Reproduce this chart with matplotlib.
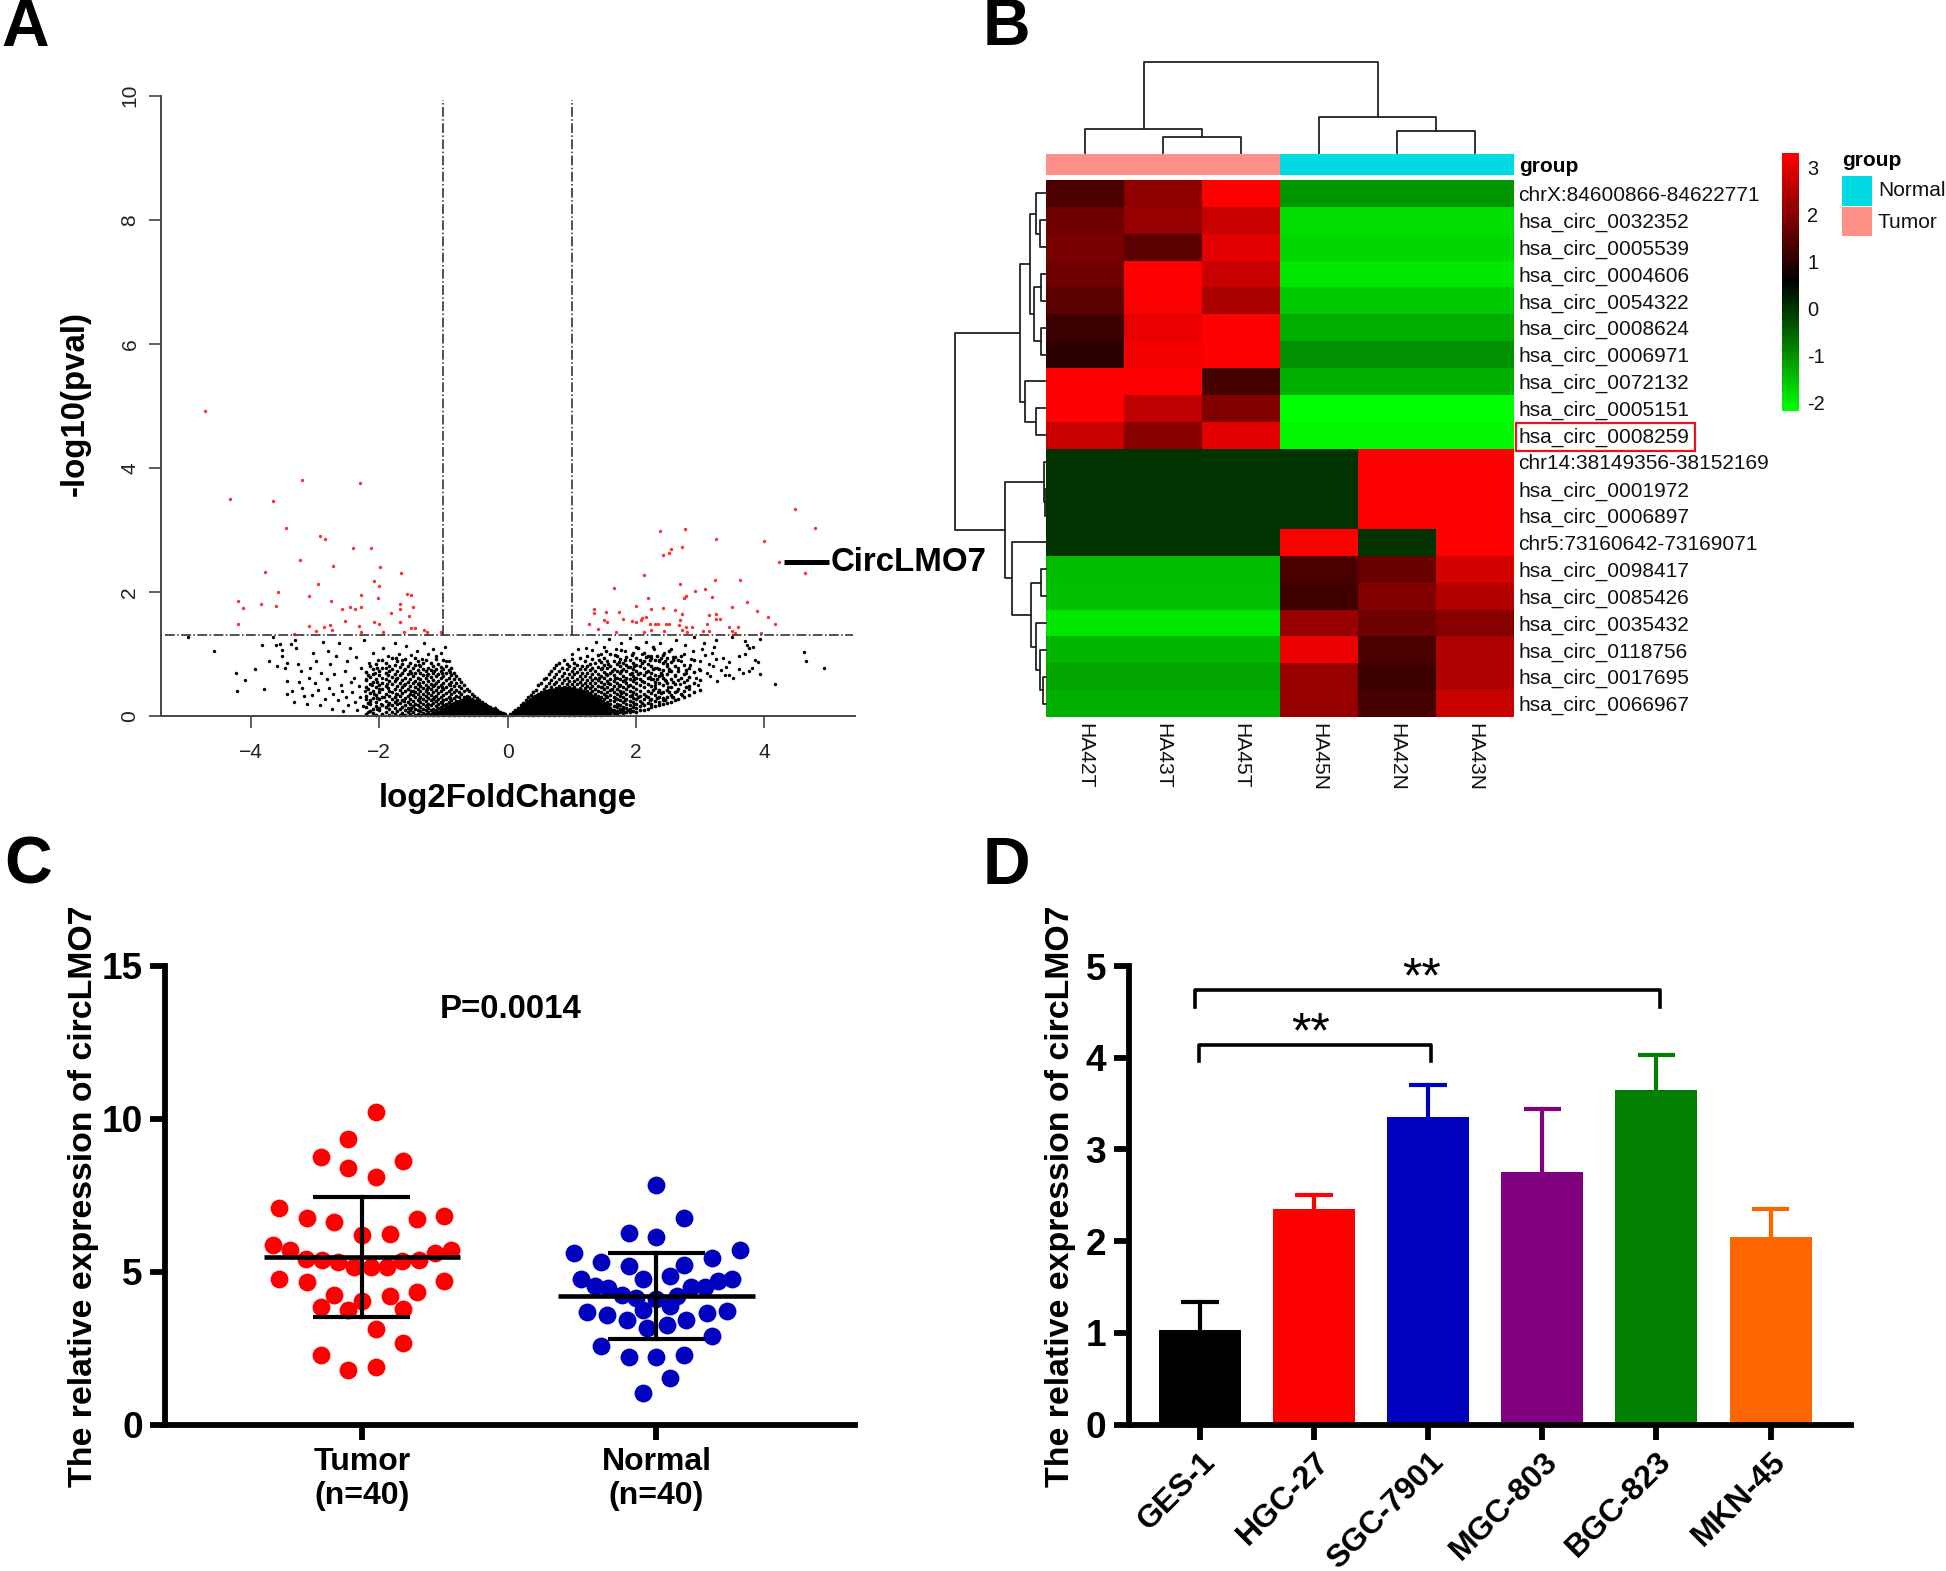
import matplotlib
matplotlib.use("Agg")
import matplotlib.pyplot as plt
from matplotlib.colors import LinearSegmentedColormap, ListedColormap
from matplotlib.patches import Rectangle

plt.rcParams['font.family'] = ['Liberation Sans', 'DejaVu Sans']

W, H = 1946, 1571

# ---- panel A
red_x = [-4.72,-4.32,-3.66,-3.21,-2.30,-3.45,-2.93,-2.85,-2.41,-2.13,-3.24,-2.72,-1.99,-1.66,-3.78,-2.96,-2.09,-2.00,
         -3.57,-3.09,-2.28,-2.02,-1.57,-1.51,-4.20,-2.75,-3.85,-3.61,-4.12,-1.67,-1.48,-2.58,-2.46,-2.38,-2.29,-1.67,
         -1.82,-1.53,-2.54,-2.09,-2.00,-1.67,-4.20,-3.10,-2.86,-2.76,-2.32,-1.51,-1.44,-2.74,-2.99,-1.30,-1.25,-3.33,
         -2.29,-1.94,-1.61,-1.04,
         4.47,4.79,2.37,2.76,3.25,3.99,2.71,2.54,2.52,2.42,4.23,4.63,2.12,3.23,3.62,2.68,3.07,2.92,1.65,2.18,2.77,2.75,
         3.18,3.73,2.00,3.50,1.34,2.23,2.60,2.42,3.88,1.53,1.73,1.34,2.72,3.13,3.25,4.06,2.10,2.15,1.50,1.79,1.93,2.00,
         2.07,2.68,3.24,3.30,1.27,1.55,2.22,2.29,2.34,2.47,2.51,2.67,3.11,4.17,2.77,2.87,3.58,3.45,1.41,2.24,2.44,2.71,
         2.80,3.04,3.49,3.54,1.68,3.94,3.13,2.12]
red_y = [4.92,3.50,3.47,3.81,3.75,3.03,2.90,2.85,2.71,2.71,2.51,2.42,2.40,2.30,2.32,2.12,2.18,2.09,
         2.00,1.94,1.95,1.91,1.96,1.95,1.85,1.86,1.80,1.77,1.74,1.80,1.76,1.73,1.75,1.72,1.75,1.72,
         1.66,1.61,1.53,1.51,1.49,1.51,1.48,1.45,1.44,1.46,1.45,1.42,1.42,1.38,1.37,1.39,1.36,1.32,
         1.36,1.36,1.36,1.36,
         3.33,3.03,2.99,3.02,2.86,2.82,2.72,2.70,2.62,2.60,2.49,2.31,2.28,2.20,2.20,2.13,2.04,2.01,2.06,1.91,1.94,1.91,
         1.92,1.84,1.77,1.76,1.72,1.73,1.71,1.74,1.70,1.68,1.67,1.66,1.64,1.63,1.64,1.60,1.58,1.59,1.54,1.56,1.53,1.51,
         1.54,1.55,1.56,1.56,1.48,1.51,1.49,1.49,1.48,1.48,1.48,1.47,1.48,1.48,1.44,1.44,1.44,1.44,1.40,1.38,1.37,1.38,
         1.36,1.37,1.37,1.34,1.36,1.34,1.37,1.36]

black_left = [(-4.98,1.28),(-4.57,1.04),(-4.23,.70),(-4.22,.40),(-4.09,.58),(-3.93,.76),(-3.80,.43),(-3.82,1.15),(-3.71,.88),
 (-3.66,1.27),(-3.61,1.15),(-3.60,.80),(-3.54,1.16),(-3.52,1.07),(-3.51,.97),(-3.47,.78),(-3.43,.86),(-3.44,.56),(-3.44,.35),
 (-3.36,.40),(-3.33,.22),(-3.38,1.16),(-3.32,1.22),(-3.30,1.09),(-3.27,.84),(-3.25,.55),(-3.22,.72),(-3.20,.45),(-3.18,.32),
 (-3.12,.19),(-3.10,.62),(-3.08,.78),(-3.05,.34),(-3.03,1.02),(-3.00,.53),(-2.98,.88),(-2.95,.42),(-2.93,.18),(-2.90,.70),
 (-2.88,1.20),(-2.85,.28),(-2.82,.60),(-2.80,1.05),(-2.78,.45),(-2.76,.84),(-2.74,.12),(-2.72,.35),(-2.70,.68),(-2.68,.97),
 (-2.65,.25),(-2.62,1.18),(-2.60,.50),(-2.58,.40),(-2.56,.08),(-2.54,.72),(-2.52,.30),(-2.50,.88),(-2.48,.18),(-2.46,1.10),
 (-2.44,.55),(-2.42,.38),(-2.40,.62),(-2.38,.22),(-2.36,.95),(-2.34,.10),(-2.32,.48),(-2.30,.30),(-2.28,.78),(-2.26,.16),
 (-2.24,1.22),(-2.22,.40),(-2.20,.60),(-2.18,.06),(-2.16,.85),(-2.14,.25),(-2.12,.50),(-2.10,1.02),(-2.08,.35),(-2.06,.70),
 (-2.04,.12),(-2.02,.90),(-2.00,.44),(-1.98,.20),(-1.96,.62),(-1.94,1.10),(-1.92,.30),(-1.90,.78),(-1.88,.52),(-1.86,.96),
 (-1.76,1.17),(-1.70,1.00),(-1.64,.90),(-1.58,1.13),(-1.50,.98),(-1.42,1.05),(-1.34,.92),(-1.30,1.18),(-1.24,1.00),
 (-1.16,1.08),(-1.12,.96),(-1.04,1.02),(-.98,1.12),(-.96,.88),(-.92,.88)]
black_right = [(4.62,1.03),(4.64,.89),(4.93,.78),(4.17,.51),(3.93,.68),(3.93,1.24),(3.69,1.21),(3.72,1.14),(3.76,1.10),(3.82,1.12),
 (3.60,.96),(3.70,1.00),(3.86,.90),(3.90,.87),(3.60,.76),(3.67,.69),(3.76,.73),(3.80,.77),(3.51,.61),(3.44,.66),(3.38,.66),
 (3.33,.74),(3.40,.79),(3.44,.87),(3.36,.93),(3.50,1.28),(3.24,1.22),(3.22,1.12),(3.18,1.02),(3.25,.92),(3.20,.80),(3.26,.56),
 (3.15,.64),(3.10,.70),(3.14,.84),(3.08,.98),(3.06,1.18),(3.02,1.08),(3.00,.88),(2.98,.76),(2.96,.50),(2.94,.62),(2.90,1.27),
 (2.88,1.05),(2.86,.92),(2.84,.82),(2.82,.44),(2.80,.58),(2.78,.70),(2.76,1.15),(2.74,1.00),(2.72,.34),(2.70,.88),(2.68,.52),
 (2.66,.78),(2.64,.40),(2.62,1.22),(2.60,.64),(2.58,.95),(2.56,.30),(2.54,1.08),(2.52,.72),(2.50,.46),(2.48,.84),(2.46,.56),
 (2.44,1.02),(2.42,.26),(2.40,.66),(2.38,1.18),(2.36,.90),(2.34,.38),(2.32,.78),(2.30,.50),(2.28,1.08),(2.26,.60),(2.24,.96),
 (2.16,1.20),(2.10,1.00),(2.00,1.12),(1.90,1.25),(1.82,1.04),(1.76,1.18),(1.68,1.08),(1.58,1.24),(1.50,1.12),(1.46,1.00),
 (1.38,1.20),(1.32,1.06),(1.22,1.10),(1.10,1.08),(1.00,1.00)]
cloud_x = [p[0] for p in black_left + black_right]
cloud_y = [p[1] for p in black_left + black_right]

# dense part of the cloud, column by column: x, then the y values seen in that column
dense_cols = [
 (-2.21,[.03,.14,.27,.33,.46,.58,.71]),(-2.15,[.08,.19,.24,.37,.52,.63,.80]),(-2.10,[.05,.12,.29,.41,.55,.68,.76]),
 (-2.05,[.02,.16,.22,.34,.47,.59,.84]),(-2.00,[.09,.13,.27,.38,.50,.66,.72]),(-1.95,[.04,.18,.31,.43,.54,.77,.91]),
 (-1.90,[.07,.15,.24,.36,.48,.60,.69,.86]),(-1.85,[.02,.11,.21,.33,.41,.56,.73,.80]),(-1.80,[.06,.17,.28,.39,.52,.63,.75,.94]),
 (-1.76,[.03,.13,.23,.30,.44,.57,.68,.83]),(-1.72,[.08,.19,.26,.35,.49,.61,.72,.88]),(-1.68,[.01,.11,.21,.33,.42,.54,.66,.79]),
 (-1.64,[.05,.15,.25,.37,.46,.58,.70,.84]),(-1.60,[.02,.09,.18,.29,.40,.51,.62,.76,.92]),(-1.56,[.06,.13,.23,.32,.44,.55,.67,.81]),
 (-1.52,[.03,.10,.20,.27,.36,.48,.60,.72,.86]),(-1.48,[.07,.16,.24,.34,.41,.53,.65,.78]),(-1.44,[.01,.12,.19,.30,.39,.46,.57,.69,.83,.94]),
 (-1.40,[.04,.09,.17,.26,.35,.44,.51,.62,.74,.89]),(-1.36,[.02,.08,.14,.22,.31,.40,.48,.59,.70,.80]),
 (-1.32,[.05,.11,.19,.28,.36,.45,.55,.66,.76,.86]),(-1.28,[.03,.09,.16,.24,.32,.41,.50,.61,.72,.91]),
 (-1.24,[.01,.07,.13,.20,.29,.37,.47,.56,.68,.78]),(-1.20,[.04,.10,.17,.25,.34,.43,.52,.63,.74,.85]),
 (-1.16,[.02,.07,.12,.21,.28,.38,.48,.58,.69,.80]),(-1.12,[.05,.10,.16,.24,.33,.42,.53,.64,.75,.92]),
 (-1.08,[.02,.06,.13,.19,.27,.37,.46,.56,.67,.84]),(-1.04,[.04,.09,.15,.22,.31,.40,.50,.61,.72,.79]),
 (-1.00,[.01,.06,.11,.17,.25,.34,.43,.53,.65,.76,.90]),(-.96,[.03,.08,.14,.20,.28,.37,.47,.58,.69,.80]),
 (-.92,[.02,.05,.10,.16,.23,.31,.40,.51,.62,.74]),(-.88,[.03,.07,.12,.18,.26,.35,.44,.55,.66,.77]),
 (-.84,[.01,.05,.09,.15,.21,.29,.38,.48,.60,.70]),(-.80,[.03,.07,.12,.17,.24,.33,.42,.53,.64]),
 (-.76,[.02,.05,.10,.15,.22,.30,.39,.49,.59]),(-.72,[.03,.07,.12,.18,.26,.35,.45,.55]),
 (-.68,[.01,.05,.09,.14,.21,.30,.40,.50]),(-.64,[.03,.07,.12,.17,.24,.33,.44]),(-.60,[.02,.05,.10,.15,.22,.30,.41]),
 (-.56,[.04,.08,.13,.19,.27,.36]),(-.52,[.02,.06,.11,.17,.24,.33]),(-.48,[.03,.08,.13,.20,.29]),(-.44,[.02,.06,.11,.17,.26]),
 (-.40,[.04,.09,.15,.22]),(-.36,[.02,.07,.13,.20]),(-.32,[.04,.09,.16]),(-.28,[.02,.07,.14]),(-.24,[.04,.11]),(-.20,[.02,.08,.13]),
 (-.16,[.04,.09]),(-.12,[.03,.07]),(-.08,[.02,.05]),(-.04,[.02,.04]),
 (.04,[.02,.04]),(.08,[.02,.06]),(.12,[.03,.09]),(.16,[.03,.07,.13]),(.20,[.04,.10,.18]),(.24,[.02,.07,.13,.21]),
 (.28,[.04,.09,.16,.25]),(.32,[.02,.07,.13,.20,.30]),(.36,[.04,.09,.15,.23,.34]),(.40,[.02,.06,.12,.18,.27,.39]),
 (.44,[.04,.09,.14,.21,.30,.42]),(.48,[.02,.07,.12,.17,.25,.35,.50]),(.52,[.04,.09,.15,.21,.29,.39,.53]),
 (.56,[.02,.06,.11,.18,.25,.33,.44,.59]),(.60,[.04,.09,.14,.21,.28,.37,.49,.62]),(.64,[.02,.07,.12,.17,.24,.32,.42,.54,.68]),
 (.68,[.04,.09,.15,.20,.27,.36,.46,.58,.72]),(.72,[.02,.06,.11,.18,.24,.31,.40,.51,.63,.78]),
 (.76,[.04,.08,.14,.20,.28,.35,.45,.55,.68,.82]),(.80,[.02,.06,.12,.17,.23,.31,.39,.49,.60,.73,.86]),
 (.84,[.04,.09,.15,.20,.27,.35,.43,.53,.65,.78]),(.88,[.02,.06,.12,.18,.24,.31,.38,.47,.58,.70,.90]),
 (.92,[.03,.08,.14,.21,.28,.35,.43,.52,.62,.75,.84]),(.96,[.02,.05,.11,.17,.24,.31,.39,.47,.57,.68,.80]),
 (1.00,[.03,.08,.14,.20,.27,.35,.43,.51,.63,.72,.92]),(1.04,[.01,.05,.11,.17,.23,.30,.38,.47,.56,.67,.78,.86]),
 (1.08,[.03,.08,.13,.20,.26,.34,.42,.51,.60,.71,.83]),(1.12,[.01,.05,.10,.16,.22,.30,.37,.45,.55,.65,.76,.94]),
 (1.16,[.03,.07,.13,.19,.26,.33,.41,.50,.59,.70,.81]),(1.20,[.02,.05,.10,.16,.22,.29,.36,.45,.54,.64,.75,.88]),
 (1.24,[.03,.08,.13,.19,.26,.33,.41,.49,.58,.69,.80,.96]),(1.28,[.01,.05,.10,.16,.23,.29,.37,.45,.53,.63,.74,.84]),
 (1.32,[.03,.07,.13,.19,.25,.33,.40,.48,.58,.67,.78,.92]),(1.36,[.02,.05,.10,.16,.22,.29,.36,.44,.53,.62,.73,.85]),
 (1.40,[.03,.08,.13,.20,.26,.33,.41,.49,.58,.68,.79,.98]),(1.45,[.02,.06,.11,.17,.23,.30,.38,.46,.55,.64,.75,.87]),
 (1.50,[.03,.08,.14,.20,.27,.35,.43,.52,.61,.71,.82,.94]),(1.55,[.04,.10,.16,.22,.30,.38,.47,.57,.66,.77,.89]),
 (1.60,[.03,.07,.13,.20,.26,.34,.42,.51,.60,.70,.81,1.0]),(1.65,[.05,.10,.16,.24,.31,.39,.48,.56,.66,.76,.88]),
 (1.70,[.04,.08,.14,.20,.28,.36,.44,.53,.62,.73,.84,.96]),(1.75,[.06,.11,.18,.25,.33,.41,.50,.59,.69,.80,.92]),
 (1.80,[.05,.09,.15,.22,.30,.38,.47,.56,.65,.76,.86]),(1.85,[.07,.13,.20,.27,.35,.44,.53,.62,.72,.83,.95]),
 (1.90,[.06,.11,.17,.24,.32,.41,.50,.59,.68,.79,.90]),(1.95,[.08,.15,.22,.29,.38,.47,.56,.65,.75,.86,1.02]),
 (2.00,[.07,.13,.20,.27,.35,.44,.53,.62,.72,.83,.94]),(2.06,[.09,.16,.24,.33,.41,.50,.60,.70,.80,.91]),
 (2.12,[.10,.18,.27,.36,.46,.55,.66,.77,.88,1.02]),(2.18,[.12,.21,.30,.40,.51,.61,.72,.84,.97]),
 (2.24,[.14,.19,.28,.37,.48,.59,.70,.81,.93]),(2.30,[.16,.24,.34,.45,.55,.66,.78,.90]),(2.36,[.18,.22,.31,.42,.53,.64,.76,.88]),
 (2.42,[.20,.29,.39,.50,.62,.74,.85,.98]),(2.48,[.21,.30,.42,.54,.67,.80,.93]),(2.54,[.23,.34,.47,.60,.73,.87]),
 (2.60,[.25,.38,.52,.66,.81,.95]),(2.66,[.28,.43,.58,.72,.90]),(2.74,[.30,.41,.55,.68,.83]),(2.82,[.34,.48,.63,.78]),
 (2.90,[.38,.53,.71,.90]),(3.00,[.42,.58,.74]),
 # extra points lying between the columns above
 (1.43,[.24,.61,.90]),(1.47,[.12,.47,.78]),(1.53,[.33,.68,1.05]),(1.57,[.19,.54,.84]),(1.63,[.08,.44,.73]),(1.67,[.29,.62,.98]),
 (1.73,[.17,.48,.87]),(1.77,[.37,.72,1.07]),(1.83,[.26,.58,.91]),(1.87,[.10,.49,.79]),(1.93,[.34,.70,.99]),(1.97,[.19,.60,.81]),
 (2.03,[.31,.67,1.09]),(2.09,[.21,.56,.86]),(2.15,[.33,.71,.95]),(2.21,[.25,.63,.90]),(2.27,[.42,.75,1.11]),(2.33,[.29,.60,.96]),
 (2.39,[.37,.69,.93]),(2.45,[.26,.58,.89]),(2.51,[.38,.76,1.05]),(2.57,[.31,.55,.91]),(2.70,[.36,.62,.97]),(2.78,[.47,.74]),
 (-2.18,[.21,.43,.66]),(-2.03,[.29,.55,.78]),(-1.87,[.17,.45,.66]),(-1.74,[.36,.60,.93]),(-1.62,[.24,.50,.74]),(-1.50,[.13,.41,.69]),
 (-1.38,[.28,.54,.83]),(-1.26,[.18,.44,.66]),(-1.14,[.30,.50,.73]),(-1.02,[.21,.47,.70]),(-.90,[.29,.50,.71])]
dense_x = [c[0] for c in dense_cols for v in c[1]]
dense_y = [v for c in dense_cols for v in c[1]]

# outlines of the parts of the cloud that print solid black
core_left_x = [-1.2,-.9,-.65,-.4,-.2,-.05,-.05]
core_left_y = [0,.2,.3,.24,.12,.05,0]
core_right_x = [.08,.2,.4,.6,.9,1.2,1.5,1.7,1.4]
core_right_y = [.03,.15,.33,.42,.48,.42,.25,.05,0]

# ---- panel B
row_labels = ['chrX:84600866-84622771','hsa_circ_0032352','hsa_circ_0005539','hsa_circ_0004606','hsa_circ_0054322',
              'hsa_circ_0008624','hsa_circ_0006971','hsa_circ_0072132','hsa_circ_0005151','hsa_circ_0008259',
              'chr14:38149356-38152169','hsa_circ_0001972','hsa_circ_0006897','chr5:73160642-73169071','hsa_circ_0098417',
              'hsa_circ_0085426','hsa_circ_0035432','hsa_circ_0118756','hsa_circ_0017695','hsa_circ_0066967']
col_labels = ['HA42T','HA43T','HA45T','HA45N','HA42N','HA43N']
heat = [[1.36,2.06,3.30,-1.07,-1.07,-1.07],
        [1.74,2.17,2.70,-1.82,-1.82,-1.82],
        [1.84,1.52,2.98,-1.77,-1.77,-1.77],
        [1.74,3.30,2.70,-1.93,-1.93,-1.93],
        [1.52,3.25,2.38,-1.60,-1.60,-1.60],
        [1.20,3.08,3.30,-1.34,-1.34,-1.34],
        [1.04,3.19,3.30,-1.00,-1.00,-1.00],
        [3.30,3.30,1.30,-1.34,-1.34,-1.34],
        [3.30,2.60,1.95,-2.20,-2.20,-2.20],
        [2.70,2.00,2.98,-2.10,-2.10,-2.10],
        [.01,.01,.01,.01,3.30,3.30],
        [.01,.01,.01,.01,3.30,3.30],
        [.01,.01,.01,.01,3.30,3.30],
        [.01,.01,.01,3.30,.01,3.30],
        [-1.45,-1.45,-1.45,1.36,1.68,2.81],
        [-1.50,-1.50,-1.50,1.25,1.95,2.50],
        [-1.93,-1.93,-1.93,2.17,1.74,2.00],
        [-1.39,-1.39,-1.39,3.08,1.36,2.44],
        [-1.23,-1.23,-1.23,2.17,1.20,2.44],
        [-1.34,-1.34,-1.34,2.17,1.30,2.70]]
group_codes = [[1,1,1,0,0,0]]
# dendrogram merges: height, first position, second position, first child height, second child height
row_links = [(.07,1,2,0,0),(.106,0,1.5,0,.07),(.05,3,4,0,0),(.05,5,6,0,0),(.135,3.5,5.5,.05,.05),
             (.177,.75,4.5,.106,.135),(.106,8,9,0,0),(.227,7,8.5,0,.106),(.284,2.625,7.75,.177,.227),
             (.014,11,12,0,0),(.02,10,11.5,0,.014),(.057,14,15,0,0),(.035,18,19,0,0),(.07,17,18.5,0,.035),
             (.106,16,17.75,0,.07),(.163,14.5,16.875,.057,.106),(.369,13,15.69,0,.163),
             (.447,10.75,14.34,.02,.369),(1.0,5.19,12.55,.284,.447)]
col_links = [(.18,1,2,0,0),(.26,0,1.5,0,.18),(.237,4,5,0,0),(.393,3,4.5,0,.237),(1.0,.75,3.75,.26,.393)]

# ---- panel C
tumor_x = [1.047,.953,.86,1.14,.953,1.047,.72,.815,.906,1.187,1.28,1.0,1.094,.70,.756,.81,.866,.92,.975,1.03,1.084,1.138,
           1.193,1.248,1.302,.72,.815,1.28,1.187,.906,1.094,1.0,.86,.953,1.14,1.047,1.14,.86,1.047,.953]
tumor_y = [10.21,9.32,8.73,8.62,8.37,8.08,7.08,6.74,6.61,6.72,6.80,6.19,6.23,5.87,5.69,5.41,5.38,5.31,5.16,5.14,5.16,5.35,
           5.38,5.59,5.72,4.76,4.65,4.70,4.33,4.22,4.19,4.05,3.85,3.74,3.78,3.11,2.66,2.26,1.88,1.78]
normal_x = [2.0,2.094,1.906,2.0,1.72,2.283,2.187,1.813,2.094,1.906,1.953,2.047,1.743,2.257,2.21,1.79,1.836,2.164,2.117,1.883,
            1.93,2.07,2.0,2.047,1.953,1.764,2.238,2.17,1.832,2.10,1.90,2.035,1.967,2.187,1.813,2.094,1.906,2.0,2.047,1.953]
normal_y = [7.82,6.75,6.27,6.12,5.62,5.70,5.45,5.31,5.22,5.18,4.76,4.85,4.76,4.76,4.68,4.53,4.45,4.48,4.48,4.22,
            4.14,4.20,4.11,3.88,3.75,3.68,3.71,3.66,3.57,3.41,3.40,3.24,3.14,2.89,2.55,2.26,2.21,2.21,1.51,1.02]
group_pos = [1, 2]
group_mean = [5.47, 4.20]
group_low = [3.51, 2.80]
group_high = [7.45, 5.61]
group_names = ['Tumor\n(n=40)', 'Normal\n(n=40)']

# ---- panel D
lines = ['GES-1','HGC-27','SGC-7901','MGC-803','BGC-823','MKN-45']
expr = [1.03,2.345,3.355,2.75,3.645,2.05]
expr_top = [1.34,2.50,3.70,3.44,4.03,2.35]
bar_colors = ['#000000','#ff0000','#0000bf','#800080','#007f00','#ff6600']

fig = plt.figure(figsize=(W/100, H/100), dpi=100, facecolor='white')


def axes_px(left, top, right, bottom):
    return fig.add_axes([left/W, 1-bottom/H, (right-left)/W, (bottom-top)/H])


def text_px(x, y, s, **kw):
    return fig.text(x/W, 1-y/H, s, **kw)


def pt(px):
    return px*0.72


for s, x, y in [('A', 1, 29), ('B', 983, 28), ('C', 4, 867), ('D', 983, 867)]:
    text_px(x, y, s, fontsize=pt(66), fontweight='bold', va='center', ha='left')

# A: volcano
ax = axes_px(161, 95.7, 855, 716)
ax.set_xlim(-5.4, 5.41)
ax.set_ylim(0, 10)
ax.fill(core_left_x, core_left_y, color='black', lw=0)
ax.fill(core_right_x, core_right_y, color='black', lw=0)
ax.scatter(dense_x, dense_y, s=7, c='black', lw=0, clip_on=False)
ax.scatter(cloud_x, cloud_y, s=6, c='black', lw=0, clip_on=False)
ax.scatter(red_x, red_y, s=6, c='#ff3030', lw=0)
ax.plot([-5.33, 5.38], [1.3, 1.3], color='#222222', lw=1.1, ls='-.')
for xv in (-1, 1):
    ax.plot([xv, xv], [1.3, 9.93], color='#222222', lw=1.1, ls='-.')
ax.plot([4.3, 5.0], [2.48, 2.48], color='black', lw=3.6, clip_on=False, solid_capstyle='butt')
ax.text(5.03, 2.47, 'CircLMO7', fontsize=pt(33), fontweight='bold', va='center', ha='left', clip_on=False)
for side in ('top', 'right'):
    ax.spines[side].set_visible(False)
for side in ('left', 'bottom'):
    ax.spines[side].set_color('#444444')
    ax.spines[side].set_linewidth(1.4)
ax.set_xticks([-4, -2, 0, 2, 4])
ax.set_yticks([0, 2, 4, 6, 8, 10])
ax.tick_params(axis='both', length=8.5, width=1.2, color='#444444', labelsize=pt(21), labelcolor='#222222')
ax.tick_params(axis='x', pad=11)
ax.tick_params(axis='y', pad=7)
plt.setp(ax.get_yticklabels(), rotation=90, va='center')
text_px(75, 404, '-log10(pval)', fontsize=pt(33), fontweight='bold', rotation=90, va='center', ha='center')
text_px(507.5, 798, 'log2FoldChange', fontsize=pt(33), fontweight='bold', va='center', ha='center')

# B: heatmap
cmap = LinearSegmentedColormap.from_list('gbr', ['#00ff00', '#000000', '#ff0000'])
ax = axes_px(1046, 180, 1514, 717)
mesh = ax.pcolormesh(heat, cmap=cmap, vmin=-2.2, vmax=3.3)
ax.set_ylim(20, 0)
ax.set_xticks([i+.5 for i in range(6)])
ax.set_xticklabels(col_labels, rotation=270, fontsize=pt(21), color='#111111')
ax.set_yticks([i+.5 for i in range(20)])
ax.set_yticklabels(row_labels, fontsize=pt(20.9), color='#111111')
ax.yaxis.tick_right()
ax.tick_params(length=0, axis='both')
ax.tick_params(axis='y', pad=3)
ax.tick_params(axis='x', pad=4)
for sp in ax.spines.values():
    sp.set_visible(False)

ax = axes_px(1046, 154, 1514, 175)
ax.pcolormesh(group_codes, cmap=ListedColormap(['#00dbe3', '#ff9088']), vmin=0, vmax=1)
ax.axis('off')
text_px(1519, 166, 'group', fontsize=pt(20.9), fontweight='bold', va='center', ha='left')

# top dendrogram, columns
ax = axes_px(1046, 62, 1514, 153)
ax.set_xlim(0, 6)
ax.set_ylim(0, 1)
ax.axis('off')
for h, a, b, ha, hb in col_links:
    ax.plot([a+.5, a+.5, b+.5, b+.5], [ha, h, h, hb], color='#222222', lw=1.3, clip_on=False)

# left dendrogram, rows
ax = axes_px(955, 180, 1046, 717)
ax.set_xlim(1, 0)
ax.set_ylim(20, 0)
ax.axis('off')
for h, a, b, ha, hb in row_links:
    ax.plot([ha, h, h, hb], [a+.5, a+.5, b+.5, b+.5], color='#222222', lw=1.3, clip_on=False)

# highlighted row
fig.add_artist(Rectangle((1515.5/W, 1-451/H), 179/W, 28/H, fill=False, ec='#e8141c', lw=1.6, transform=fig.transFigure))

# colour bar and group legend
cax = axes_px(1782, 153, 1799, 411.5)
cb = fig.colorbar(mesh, cax=cax)
cb.set_ticks([-2, -1, 0, 1, 2, 3])
cb.set_ticklabels(['-2', '-1', '0', '1', '2', '3'])
cb.ax.tick_params(length=0, labelsize=pt(20), pad=6, labelcolor='#111111')
cb.outline.set_visible(False)
text_px(1842, 161, 'group', fontsize=pt(20.9), fontweight='bold', va='center', ha='left')
fig.add_artist(Rectangle((1842/W, 1-205.5/H), 30/W, 29.5/H, color='#00dbe3', lw=0, transform=fig.transFigure))
fig.add_artist(Rectangle((1842/W, 1-236/H), 30/W, 29.5/H, color='#ff9088', lw=0, transform=fig.transFigure))
text_px(1878, 191, 'Normal', fontsize=pt(20.9), va='center', ha='left', color='#111111')
text_px(1878, 222, 'Tumor', fontsize=pt(20.9), va='center', ha='left', color='#111111')

# C: scatter
ax = axes_px(165, 965.6, 855, 1424.5)
ax.set_xlim(.332, 2.674)
ax.set_ylim(0, 15)
ax.scatter(tumor_x, tumor_y, s=165, c='#ff0000', lw=0, zorder=2)
ax.scatter(normal_x, normal_y, s=165, c='#0000bf', lw=0, zorder=2)
for p, m, lo, hi in zip(group_pos, group_mean, group_low, group_high):
    ax.plot([p-.333, p+.333], [m, m], color='black', lw=3.3, zorder=3, solid_capstyle='butt')
    ax.plot([p, p], [lo, hi], color='black', lw=3.0, zorder=3)
    ax.plot([p-.165, p+.165], [hi, hi], color='black', lw=3.0, zorder=3, solid_capstyle='butt')
    ax.plot([p-.165, p+.165], [lo, lo], color='black', lw=3.0, zorder=3, solid_capstyle='butt')
ax.set_xticks(group_pos)
ax.set_xticklabels(group_names, fontsize=pt(32), fontweight='bold', linespacing=1.2)
ax.set_yticks([0, 5, 10, 15])
ax.set_yticklabels(['0', '5', '10', '15'], fontsize=pt(37), fontweight='bold')
text_px(511, 1010, 'P=0.0014', fontsize=pt(33), fontweight='bold', va='center', ha='center')
text_px(84, 1196, 'The relative expression of circLMO7', fontsize=pt(33.9), fontweight='bold', rotation=90,
        va='center', ha='center')

# D: bars
ax2 = axes_px(1128.5, 966, 1851, 1424.5)
ax2.set_xlim(-.627, 5.705)
ax2.set_ylim(0, 5)
ax2.bar(range(6), expr, width=.718, color=bar_colors, zorder=2)
for i in range(6):
    ax2.plot([i, i], [expr[i], expr_top[i]], color=bar_colors[i], lw=3.0, zorder=1)
    ax2.plot([i-.165, i+.165], [expr_top[i], expr_top[i]], color=bar_colors[i], lw=3.0, solid_capstyle='butt')
ax2.plot([-.04, -.04, 4.03, 4.03], [4.55, 4.74, 4.74, 4.55], color='black', lw=2.6)
ax2.plot([-.01, -.01, 2.02, 2.02], [3.96, 4.14, 4.14, 3.96], color='black', lw=2.6)
ax2.text(1.946, 4.85, '**', fontsize=pt(50), ha='center', va='center')
ax2.text(.97, 4.25, '**', fontsize=pt(50), ha='center', va='center')
ax2.set_xticks(range(6))
ax2.set_xticklabels(lines, rotation=45, ha='right', rotation_mode='anchor', fontsize=pt(32), fontweight='bold')
ax2.set_yticks(range(6))
ax2.set_yticklabels([str(v) for v in range(6)], fontsize=pt(37), fontweight='bold')
text_px(1060, 1196, 'The relative expression of circLMO7', fontsize=pt(33.9), fontweight='bold', rotation=90,
        va='center', ha='center')

for a in (ax, ax2):
    for side in ('top', 'right'):
        a.spines[side].set_visible(False)
    for side in ('left', 'bottom'):
        a.spines[side].set_linewidth(4.2)
    a.tick_params(axis='both', length=11, width=4.2, pad=5)

plt.savefig('out.png', dpi=100)
